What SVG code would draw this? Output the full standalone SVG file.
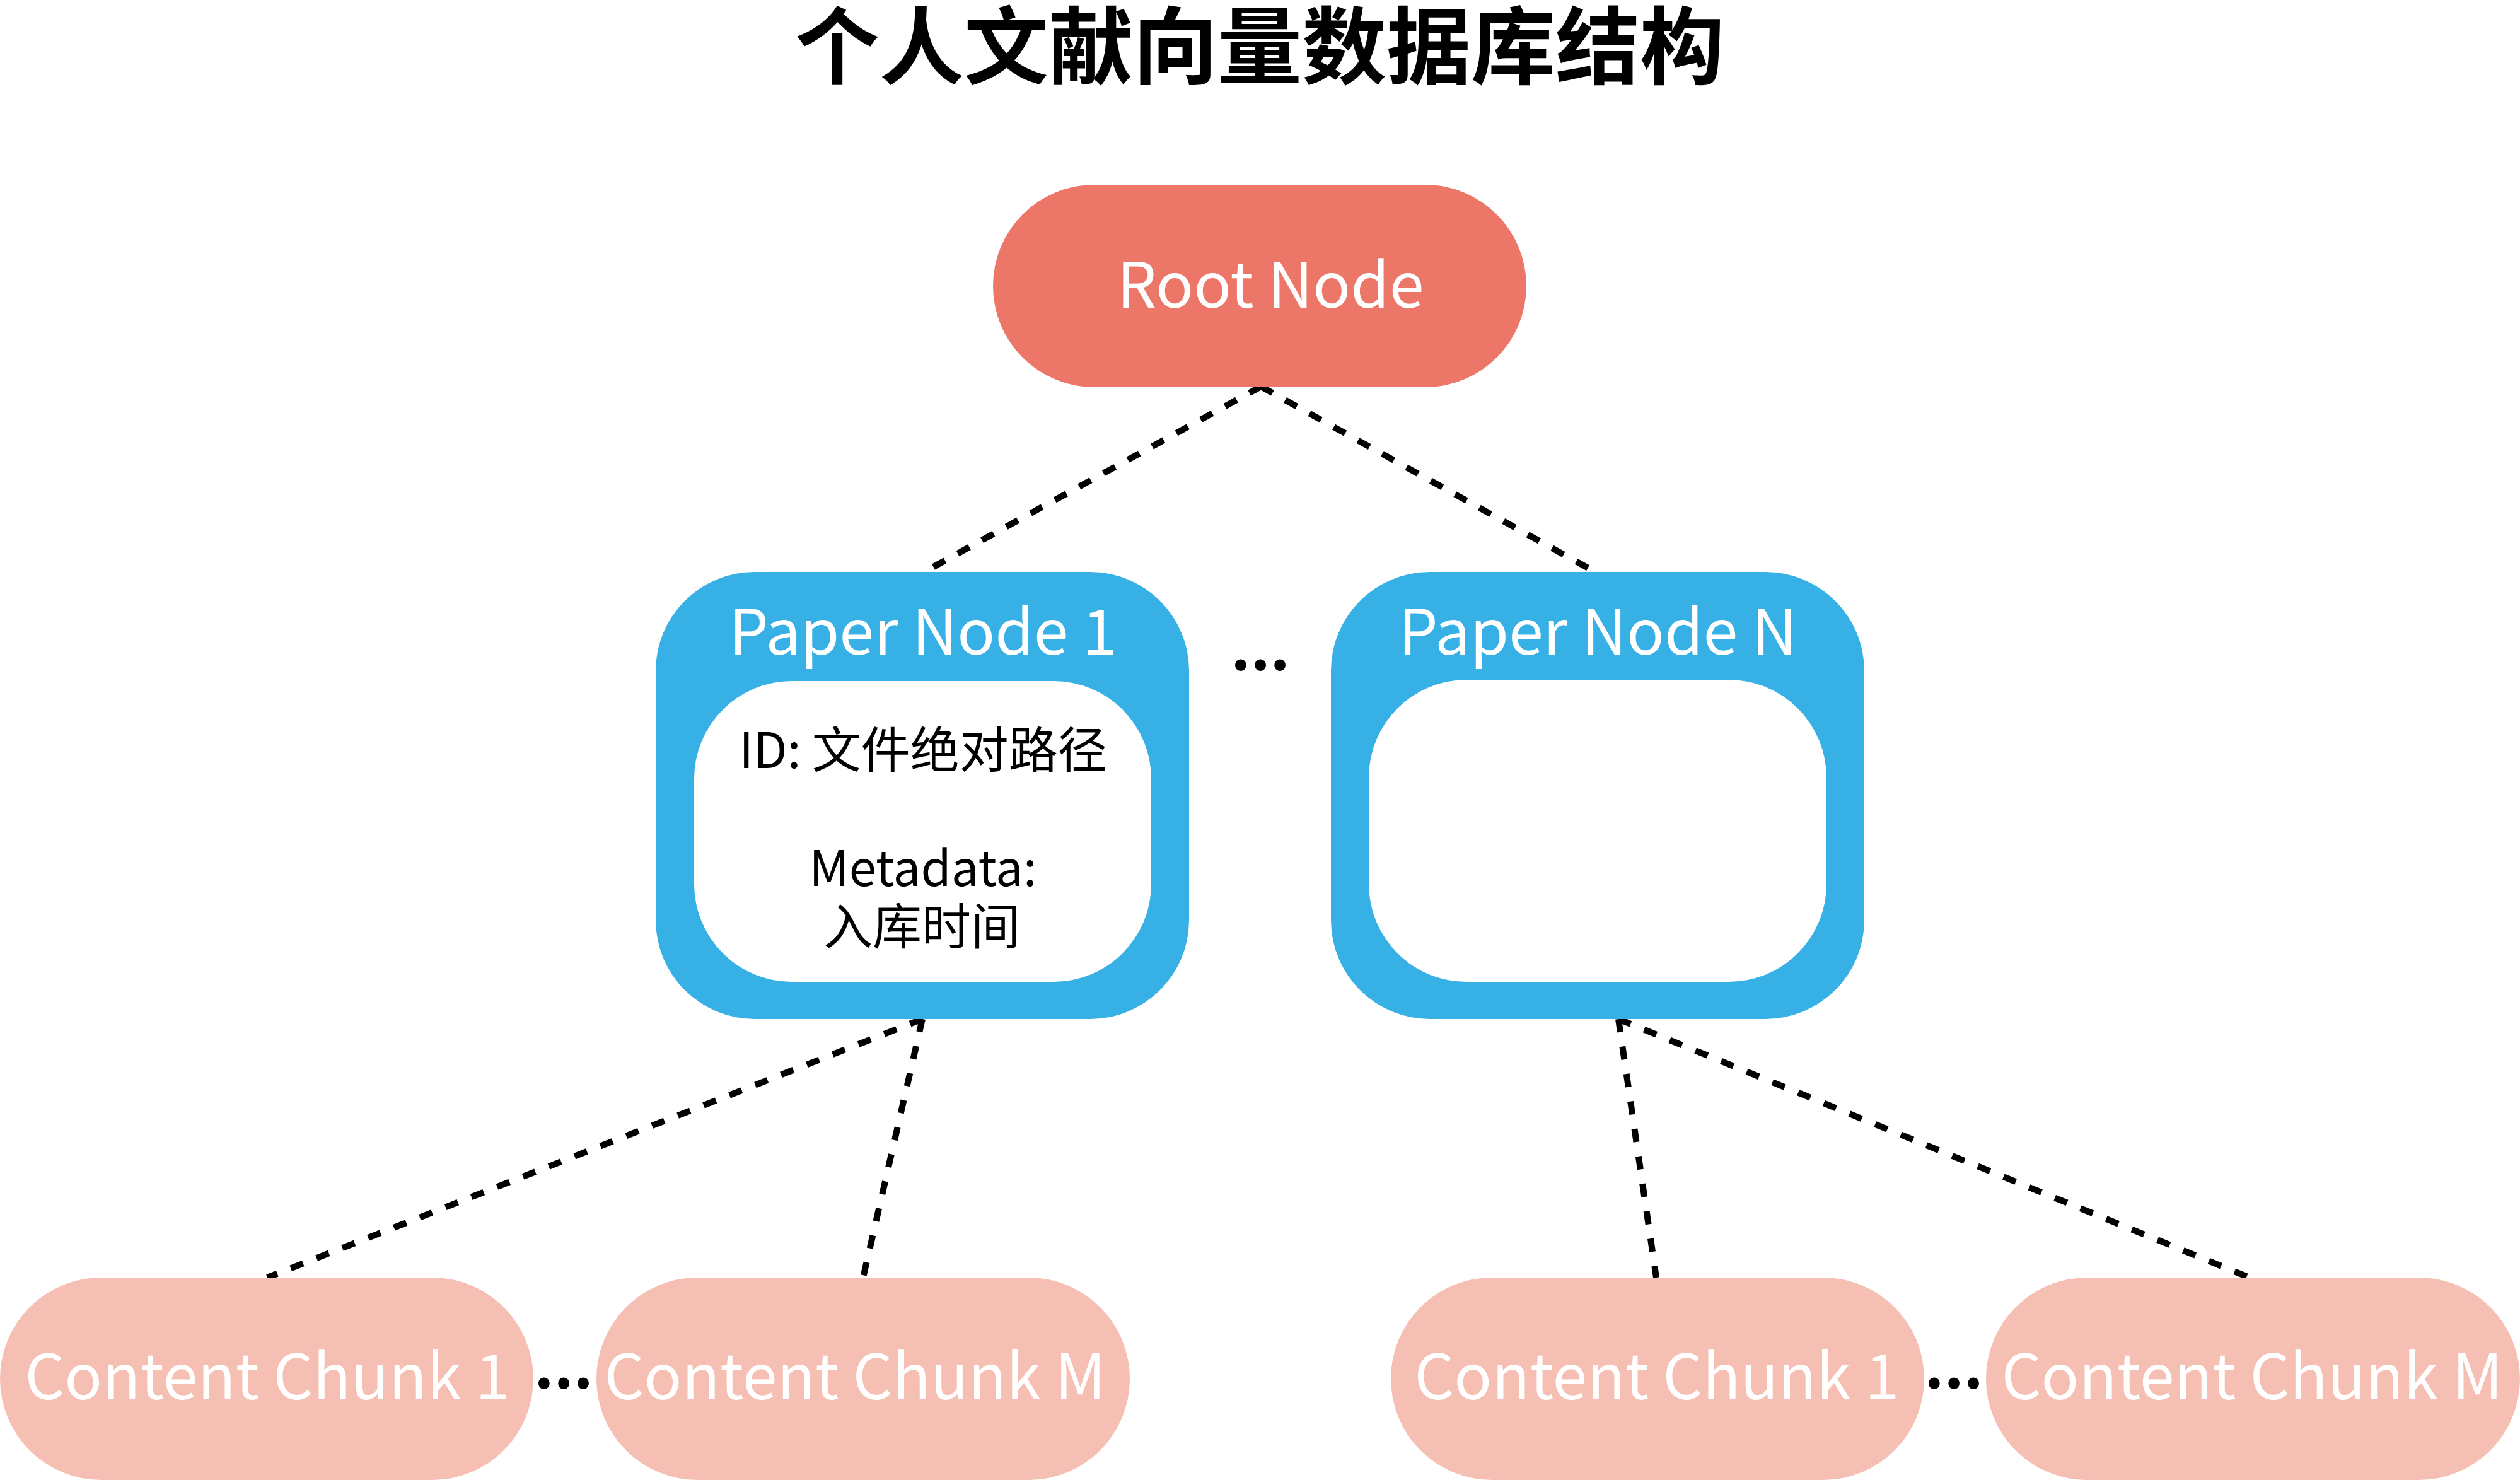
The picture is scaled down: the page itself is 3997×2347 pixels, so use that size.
<svg xmlns="http://www.w3.org/2000/svg" width="3997" height="2347" viewBox="0 0 3997 2347">
<style>
  text { font-family: "Noto Sans CJK SC", "Noto Sans", sans-serif; text-anchor: middle; }
  .title { font-size: 134px; font-weight: bold; fill: #000; }
  .lbl { font-size: 99px; fill: #fff; }
  .body { font-size: 78px; fill: #000; }
  .dots { font-size: 96px; font-weight: bold; fill: #000; }
  .root { fill: #EC7769; }
  .paper { fill: #36B0E5; }
  .inner { fill: #fff; }
  .chunk { fill: #F6BFB3; }
  .conn { stroke: #000; stroke-width: 10; stroke-dasharray: 21 23; fill: none; }
</style>
<rect width="3997" height="2347" fill="#fff"/>
<text class="title" x="1998" y="123">个人文献向量数据库结构</text>
<g id="connectors">
  <path class="conn" d="M2000 613 L1466 907"/>
  <path class="conn" d="M2000 613 L2530 907"/>
  <path class="conn" d="M1463 1616 L424 2026"/>
  <path class="conn" d="M1463 1616 L1369 2026"/>
  <path class="conn" d="M2567 1616 L2627 2026"/>
  <path class="conn" d="M2567 1616 L3568 2026"/>
</g>
<g id="root">
  <rect class="root" x="1575" y="293" width="846" height="321" rx="160.5"/>
  <text class="lbl" x="2015" y="488">Root Node</text>
</g>
<g id="paper1">
  <rect class="paper" x="1040" y="907" width="846" height="709" rx="157"/>
  <rect class="inner" x="1101" y="1080" width="725" height="477" rx="155"/>
  <text class="lbl" x="1464" y="1038">Paper Node 1</text>
  <text class="body" x="1464" y="1218">ID: 文件绝对路径</text>
  <text class="body" x="1464" y="1405">Metadata:</text>
  <text class="body" x="1462" y="1498">入库时间</text>
</g>
<g id="paperN">
  <rect class="paper" x="2111" y="907" width="846" height="709" rx="157"/>
  <rect class="inner" x="2171" y="1078" width="726" height="479" rx="155"/>
  <text class="lbl" x="2534" y="1038">Paper Node N</text>
</g>
<g id="paper-dots">
  <text class="dots" x="1999" y="1063">...</text>
</g>
<g id="chunk1a">
  <rect class="chunk" x="0" y="2026" width="846" height="321" rx="160.5"/>
  <text class="lbl" x="424" y="2219">Content Chunk 1</text>
</g>
<g id="chunk-dots-a">
  <text class="dots" x="894" y="2202">...</text>
</g>
<g id="chunkMa">
  <rect class="chunk" x="946" y="2026" width="846" height="321" rx="160.5"/>
  <text class="lbl" x="1356" y="2219">Content Chunk M</text>
</g>
<g id="chunk1b">
  <rect class="chunk" x="2206" y="2026" width="846" height="321" rx="160.5"/>
  <text class="lbl" x="2628" y="2219">Content Chunk 1</text>
</g>
<g id="chunk-dots-b">
  <text class="dots" x="3099" y="2202">...</text>
</g>
<g id="chunkMb">
  <rect class="chunk" x="3150" y="2026" width="847" height="321" rx="160.5"/>
  <text class="lbl" x="3572" y="2219">Content Chunk M</text>
</g>
</svg>
